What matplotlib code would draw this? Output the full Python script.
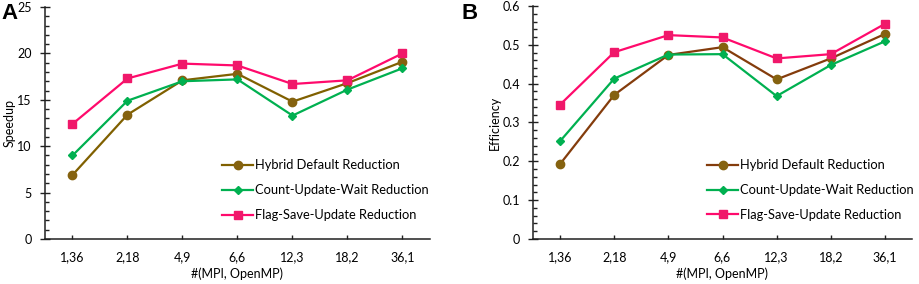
import matplotlib.pyplot as plt
from matplotlib.ticker import MultipleLocator, FuncFormatter

plt.rcParams['font.family'] = ['Lato', 'DejaVu Sans']

configs = ['1,36', '2,18', '4,9', '6,6', '12,3', '18,2', '36,1']
labels = ['Hybrid Default Reduction', 'Count-Update-Wait Reduction', 'Flag-Save-Update Reduction']

# Speedup (panel A)
speedup_hybrid = [6.9, 13.4, 17.1, 17.8, 14.8, 16.8, 19.1]
speedup_count = [9.0, 14.9, 17.0, 17.2, 13.3, 16.1, 18.4]
speedup_flag = [12.4, 17.3, 18.9, 18.7, 16.7, 17.1, 20.0]

# Efficiency (panel B)
eff_hybrid = [0.193, 0.371, 0.474, 0.494, 0.411, 0.465, 0.528]
eff_count = [0.252, 0.413, 0.475, 0.476, 0.368, 0.448, 0.509]
eff_flag = [0.346, 0.481, 0.525, 0.519, 0.465, 0.476, 0.554]

fig = plt.figure(figsize=(9.2, 2.84), dpi=100)
axA = fig.add_axes([45 / 920, 45 / 284, 385 / 920, 232 / 284])
axB = fig.add_axes([533 / 920, 45 / 284, 379 / 920, 233 / 284])

x = range(len(configs))


def draw(ax, hyb, cnt, flg, hyb_line, ymax, major, minor, ylabel):
    ax.plot(x, hyb, color=hyb_line, lw=1.6, marker='o', ms=6,
            mfc='#85620f', mec='#85620f', label=labels[0])
    ax.plot(x, cnt, color='#00b050', lw=1.6, marker='D', ms=4.5,
            mfc='#00b050', mec='#00b050', label=labels[1])
    ax.plot(x, flg, color='#ff0a6c', lw=1.6, marker='s', ms=5.5,
            mfc='#f0186a', mec='#f0186a', label=labels[2])
    ax.set_xlim(-0.5, 6.5)
    ax.set_ylim(0, ymax)
    ax.set_xticks(list(x))
    ax.set_xticklabels(configs)
    ax.yaxis.set_major_locator(MultipleLocator(major))
    ax.yaxis.set_minor_locator(MultipleLocator(minor))
    ax.yaxis.set_major_formatter(FuncFormatter(lambda v, _: f'{round(v, 3):g}'))
    for s in ['top', 'right']:
        ax.spines[s].set_visible(False)
    for s in ['left', 'bottom']:
        ax.spines[s].set_color('#202020')
        ax.spines[s].set_linewidth(1.1)
    ax.tick_params(axis='y', which='major', direction='inout', length=7,
                   width=1, color='#202020', labelsize=9, pad=6)
    ax.tick_params(axis='y', which='minor', direction='in', length=3,
                   width=1, color='#202020')
    ax.tick_params(axis='x', direction='in', length=3, width=1,
                   color='#202020', labelsize=9, pad=9)
    ax.set_ylabel(ylabel, fontsize=9, labelpad=1)
    ax.set_xlabel('#(MPI, OpenMP)', fontsize=9, labelpad=3)
    ax.legend(loc='center left', bbox_to_anchor=(0.46, 0.21), frameon=False,
              fontsize=9.3, borderpad=0, borderaxespad=0, handlelength=2.4,
              handletextpad=0.15, labelspacing=1.0)


draw(axA, speedup_hybrid, speedup_count, speedup_flag, '#806000', 25, 5, 1, 'Speedup')
draw(axB, eff_hybrid, eff_count, eff_flag, '#843c0c', 0.6, 0.1, 0.02, 'Efficiency')

fig.text(0.002, 0.99, 'A', fontsize=16, fontweight='bold', va='top',
         family='Liberation Sans')
fig.text(0.5015, 0.99, 'B', fontsize=16, fontweight='bold', va='top',
         family='Liberation Sans')

fig.savefig('out.png', dpi=100)
